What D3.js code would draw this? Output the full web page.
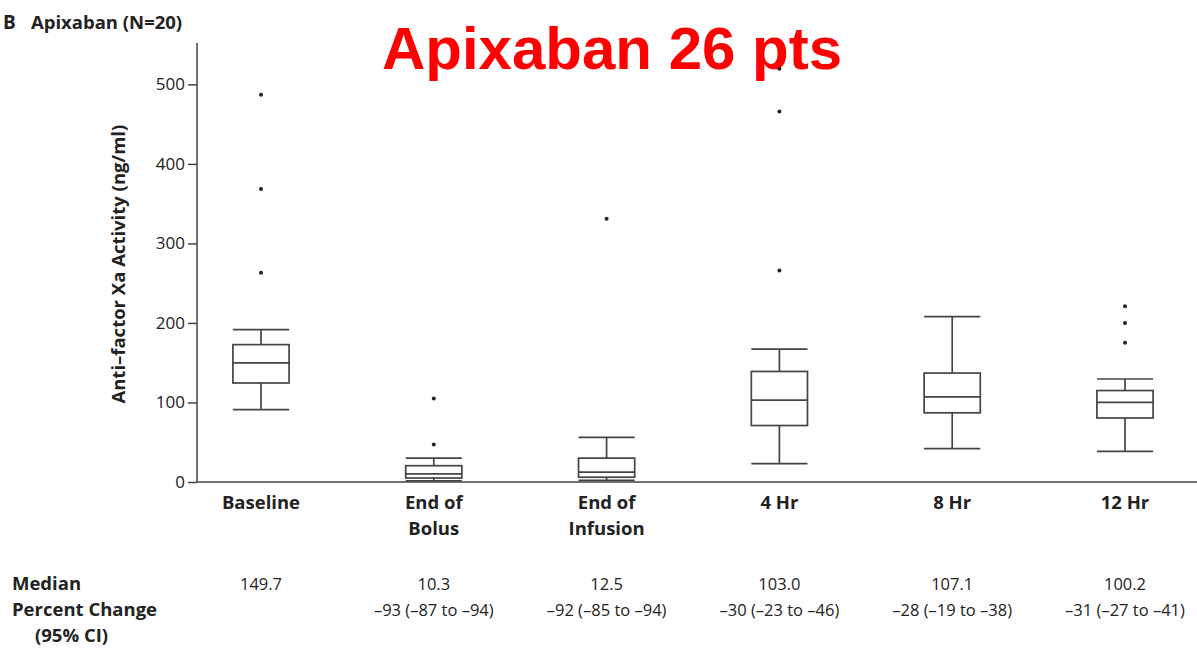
<!DOCTYPE html>
<html>
<head>
<meta charset="utf-8">
<script src="https://cdn.jsdelivr.net/npm/d3@7/dist/d3.min.js"></script>
<style>
  html, body { margin: 0; padding: 0; background: #fff; }
  svg { display: block; }
</style>
</head>
<body>
<svg id="chart" width="1197" height="649"></svg>
<script>
// ---- data ----
const categories = ["Baseline", "End of Bolus", "End of Infusion", "4 Hr", "8 Hr", "12 Hr"];
const categoryLines = [["Baseline"], ["End of", "Bolus"], ["End of", "Infusion"], ["4 Hr"], ["8 Hr"], ["12 Hr"]];
const whiskerLow  = [91, 1.5, 2, 23, 42, 38.5];
const q1          = [124.5, 5, 6, 71, 87, 80.5];
const medians     = [149.7, 10.3, 12.5, 103.0, 107.1, 100.2];
const q3          = [172.7, 20.5, 30, 139, 137, 115];
const whiskerHigh = [191.6, 30, 56, 167, 208, 129.5];
const outliers    = [[487, 368.5, 263], [105, 47], [331], [519.5, 466, 266], [], [221, 200, 175]];
const pctChange   = ["", "–93 (–87 to –94)", "–92 (–85 to –94)", "–30 (–23 to –46)", "–28 (–19 to –38)", "–31 (–27 to –41)"];
const yTicks      = [0, 100, 200, 300, 400, 500];
const rowHeads    = ["Median", "Percent Change", "(95% CI)"];

// ---- setup ----
const svg = d3.select("#chart");
const font = "'Open Sans', 'DejaVu Sans', sans-serif";
const ink = "#222";
const lineCol = "#444";

const plot = { left: 197, right: 1197, top: 43, bottom: 482 };
const y = d3.scaleLinear().domain([0, 552]).range([plot.bottom, plot.top]);
const x = d3.scalePoint().domain(categories).range([261, 1125]);
const boxW = x.step() * 0.325;

// header
svg.append("text").attr("x", 3).attr("y", 29)
  .attr("font-family", font).attr("font-weight", 700).attr("font-size", 19).attr("fill", ink)
  .text("B");
svg.append("text").attr("x", 31).attr("y", 29)
  .attr("font-family", font).attr("font-weight", 700).attr("font-size", 18.5).attr("fill", ink)
  .text("Apixaban (N=20)");

// red overlay title
svg.append("text").attr("x", 612).attr("y", 69).attr("text-anchor", "middle")
  .attr("font-family", "'Liberation Sans', Arial, sans-serif").attr("font-weight", 700)
  .attr("font-size", 60).attr("fill", "#ff0000")
  .text("Apixaban 26 pts");

// y axis
const yAxis = d3.axisLeft(y).tickValues(yTicks).tickSize(9).tickPadding(3).tickSizeOuter(0);
const gy = svg.append("g").attr("transform", `translate(${plot.left},0)`).call(yAxis);
gy.select(".domain").remove();
gy.append("line").attr("x1", 0).attr("x2", 0).attr("y1", y(0)).attr("y2", plot.top)
  .attr("stroke", lineCol).attr("stroke-width", 1.5);
gy.selectAll(".tick line").attr("stroke", lineCol).attr("stroke-width", 1.5);
gy.selectAll(".tick text").attr("font-family", font).attr("font-size", 17).attr("fill", ink);

// y title
svg.append("text")
  .attr("transform", `translate(125,${(y(0) + y(500)) / 2 - 19}) rotate(-90)`)
  .attr("text-anchor", "middle")
  .attr("font-family", font).attr("font-weight", 700).attr("font-size", 18.5).attr("fill", ink)
  .text("Anti–factor Xa Activity (ng/ml)");

// x axis line
svg.append("line").attr("x1", plot.left).attr("x2", plot.right).attr("y1", y(0)).attr("y2", y(0))
  .attr("stroke", lineCol).attr("stroke-width", 1.5);

// x labels
const xl = svg.append("g");
categories.forEach((c, i) => {
  const t = xl.append("text").attr("x", x(c)).attr("y", 509).attr("text-anchor", "middle")
    .attr("font-family", font).attr("font-weight", 700).attr("font-size", 18.5).attr("fill", ink);
  categoryLines[i].forEach((ln, j) => {
    t.append("tspan").attr("x", x(c)).attr("dy", j === 0 ? 0 : 26).text(ln);
  });
});

// boxes
const boxes = svg.append("g").attr("stroke", lineCol).attr("stroke-width", 1.7).attr("fill", "none");
categories.forEach((c, i) => {
  const cx = x(c);
  const g = boxes.append("g");
  g.append("line").attr("x1", cx).attr("x2", cx).attr("y1", y(q3[i])).attr("y2", y(whiskerHigh[i]));
  g.append("line").attr("x1", cx).attr("x2", cx).attr("y1", y(q1[i])).attr("y2", y(whiskerLow[i]));
  g.append("line").attr("x1", cx - boxW / 2).attr("x2", cx + boxW / 2).attr("y1", y(whiskerHigh[i])).attr("y2", y(whiskerHigh[i]));
  g.append("line").attr("x1", cx - boxW / 2).attr("x2", cx + boxW / 2).attr("y1", y(whiskerLow[i])).attr("y2", y(whiskerLow[i]));
  g.append("rect").attr("x", cx - boxW / 2).attr("width", boxW)
    .attr("y", y(q3[i])).attr("height", y(q1[i]) - y(q3[i])).attr("fill", "#fff");
  g.append("line").attr("x1", cx - boxW / 2).attr("x2", cx + boxW / 2).attr("y1", y(medians[i])).attr("y2", y(medians[i]));
  outliers[i].forEach(v => {
    svg.append("circle").attr("cx", cx).attr("cy", y(v)).attr("r", 2).attr("fill", "#222");
  });
});

// table
const tbl = svg.append("g").attr("font-family", font).attr("fill", ink);
const rowY = [590, 616, 642];
tbl.append("text").attr("x", 12).attr("y", rowY[0]).attr("font-weight", 700).attr("font-size", 18.5).text(rowHeads[0]);
tbl.append("text").attr("x", 12).attr("y", rowY[1]).attr("font-weight", 700).attr("font-size", 18.5).text(rowHeads[1]);
tbl.append("text").attr("x", 35).attr("y", rowY[2]).attr("font-weight", 700).attr("font-size", 18.5).text(rowHeads[2]);
const fmt = d3.format(".1f");
categories.forEach((c, i) => {
  tbl.append("text").attr("x", x(c)).attr("y", rowY[0]).attr("text-anchor", "middle").attr("font-size", 16.5).text(fmt(medians[i]));
  tbl.append("text").attr("x", x(c)).attr("y", rowY[1]).attr("text-anchor", "middle").attr("font-size", 16.5).text(pctChange[i]);
});
</script>
</body>
</html>
